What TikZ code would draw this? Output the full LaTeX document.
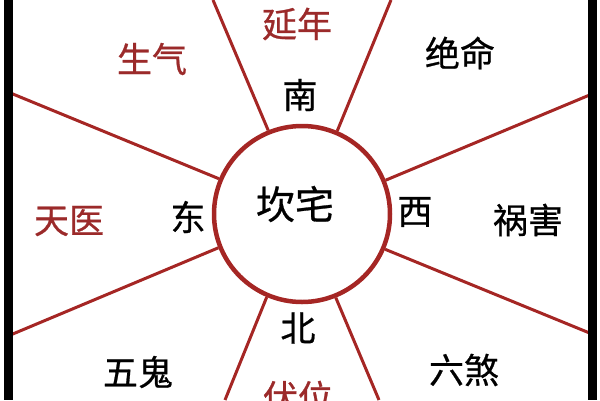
\documentclass[tikz,border=0pt]{standalone}
\usepackage{fontspec}
\newfontfamily\cjk[FakeBold=0.7]{Noto Sans CJK SC}
\definecolor{zhaired}{RGB}{165,38,36}
\definecolor{guared}{RGB}{155,42,42}
\begin{document}
\begin{tikzpicture}[x=1pt,y=-1pt]
			\tikzset{every node/.style={font=\cjk\fontsize{35}{35}\selectfont,inner sep=0pt}}
			\tikzset{gua/.style={text=guared}}
			\tikzset{fang/.style={text=black}}
			\tikzset{spoke/.style={draw=zhaired,line width=3pt}}
			\useasboundingbox (0,0) rectangle (600,400);
			\node[circle,draw=zhaired,line width=4.5pt,minimum size=176pt] (zhai) at (302,214) {};
			\coordinate (b1) at (592,94);
			\coordinate (b2) at (391,0);
			\coordinate (b3) at (213,0);
			\coordinate (b4) at (8,92);
			\coordinate (b5) at (8,336);
			\coordinate (b6) at (225,400);
			\coordinate (b7) at (379,400);
			\coordinate (b8) at (592,334);
			\foreach \a/\b in {22.5/b1,67.5/b2,112.5/b3,157.5/b4,202.5/b5,247.5/b6,292.5/b7,337.5/b8}
				\draw[spoke] (zhai.\a) -- (\b);
			\draw[line width=9pt] (8,0) -- (8,400);
			\draw[line width=9pt] (592,0) -- (592,400);
			\node[fang,font=\cjk\fontsize{39}{39}\selectfont] (kan) at (295,204) {坎宅};
			\node[fang] (nan) at (300,95) {南};
			\node[fang] (bei) at (298,328) {北};
			\node[fang] (dong) at (188,217) {东};
			\node[fang] (xi) at (415,212) {西};
			\node[gua] (yannian) at (297,24) {延年};
			\node[gua] (shengqi) at (152,59) {生气};
			\node[gua] (tianyi) at (69,221) {天医};
			\node[gua] (fuwei) at (298,397) {伏位};
			\node[fang] (jueming) at (460,53) {绝命};
			\node[fang] (huohai) at (528,220) {祸害};
			\node[fang] (wugui) at (138,372) {五鬼};
			\node[fang] (liusha) at (464,370) {六煞};
		\end{tikzpicture}
\end{document}
